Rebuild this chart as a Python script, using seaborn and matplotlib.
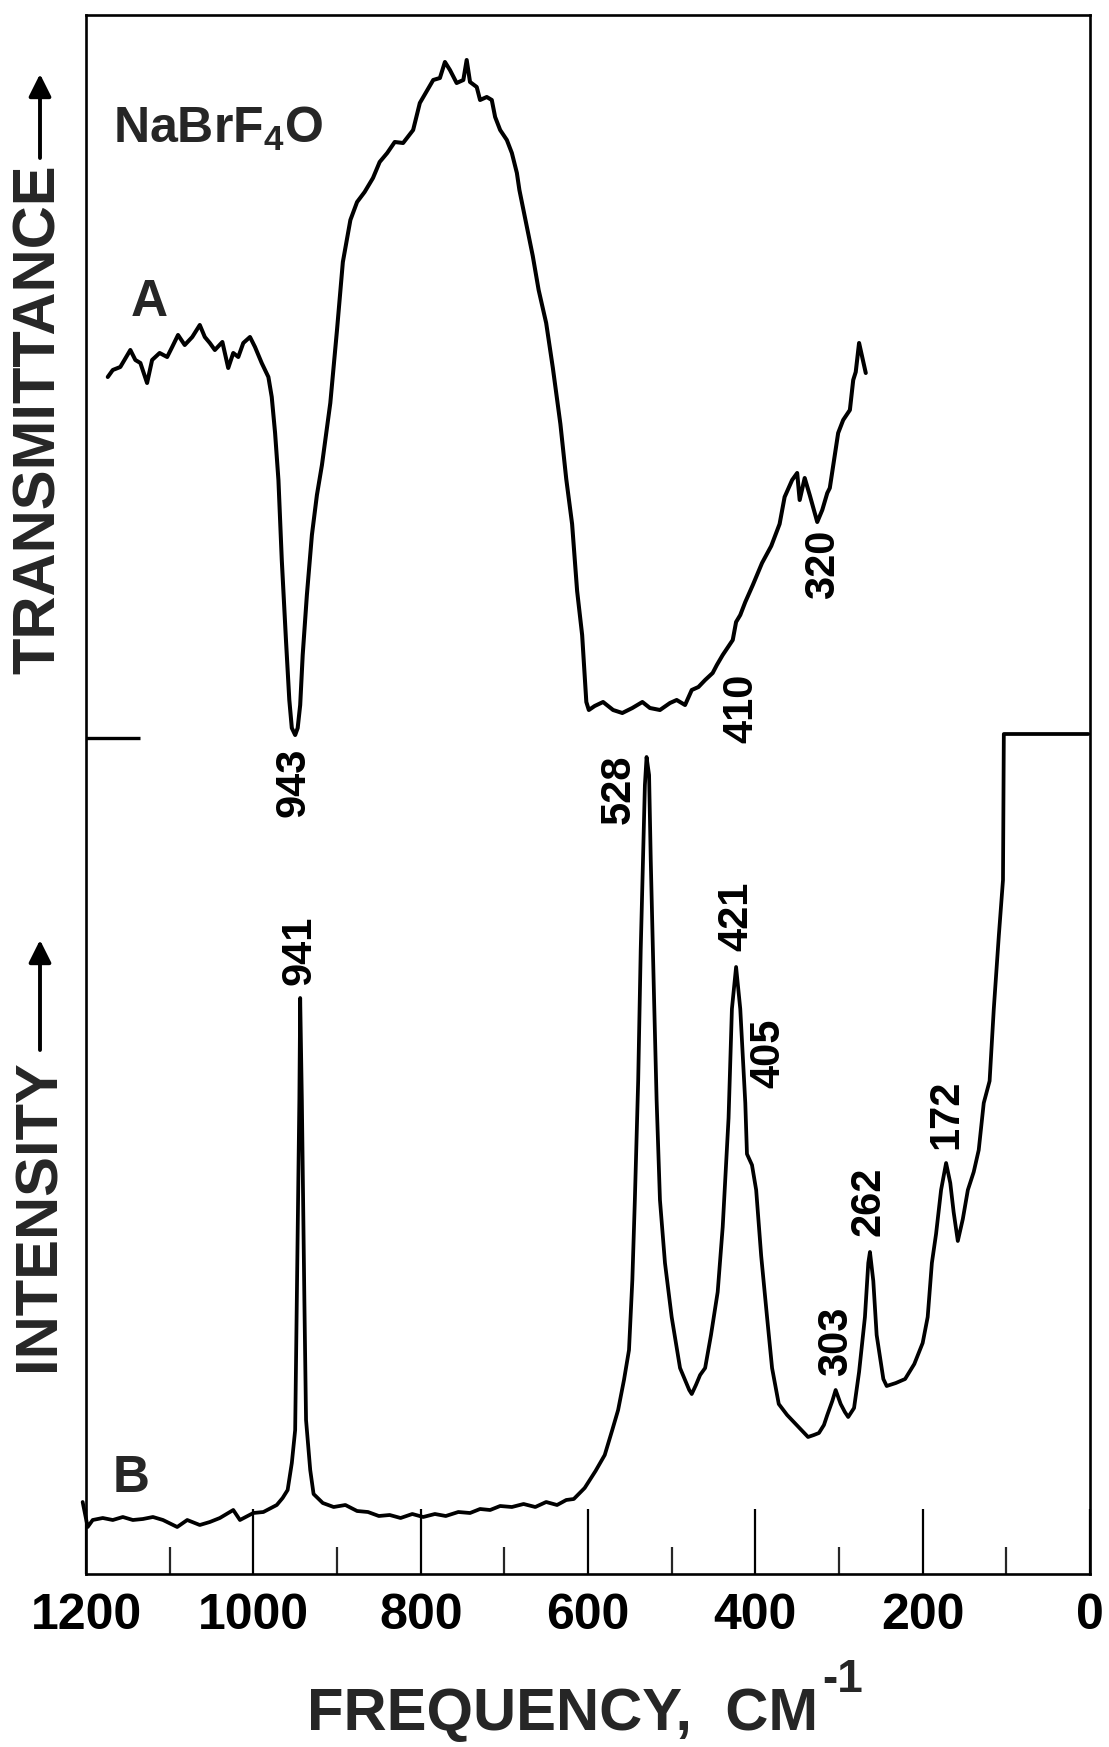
import numpy as np
import pandas as pd
import matplotlib
matplotlib.use("Agg")
import matplotlib.pyplot as plt
import seaborn as sns
from matplotlib.ticker import MultipleLocator

# ---------------- data ----------------
# Spectrum A: IR transmittance (arbitrary units), frequency in cm^-1
freq_A = [1174, 1168, 1159, 1147, 1141, 1135, 1127, 1121, 1112, 1103, 1097, 1090,
          1082, 1073, 1064, 1058, 1052, 1046, 1037, 1030, 1024, 1018, 1012, 1004,
          998, 990, 982, 978, 974, 970, 966, 961, 957, 954, 950, 947, 944, 941,
          936, 930, 924, 918, 908, 900, 893, 884, 876, 867, 857, 849, 840, 831,
          821, 809, 801, 792, 785, 777, 771, 765, 757, 749, 745, 741, 733, 729,
          721, 715, 711, 705, 697, 691, 685, 682, 674, 666, 659, 650, 642, 633,
          626, 619, 613, 607, 602, 599, 592, 582, 570, 559, 547, 535, 526, 514,
          502, 494, 484, 476, 468, 460, 451, 446, 439, 427, 423, 418, 412, 403,
          392, 381, 371, 365, 356, 350, 347, 341, 335, 326, 320, 314, 311, 301,
          295, 287, 283, 280, 276, 272, 268]
trans_A = [1197, 1204, 1207, 1224, 1214, 1211, 1191, 1214, 1221, 1217, 1227, 1239,
           1229, 1237, 1249, 1237, 1231, 1224, 1232, 1206, 1221, 1217, 1231, 1237,
           1227, 1211, 1197, 1177, 1141, 1094, 1014, 934, 874, 846, 839, 846, 869, 919,
           979, 1039, 1079, 1109, 1171, 1244, 1312, 1354, 1372, 1382, 1396, 1412, 1421, 1432,
           1431, 1444, 1471, 1484, 1494, 1496, 1512, 1504, 1491, 1494, 1514, 1492, 1487, 1474,
           1477, 1474, 1457, 1444, 1434, 1421, 1401, 1384, 1351, 1318, 1284, 1251, 1206, 1150,
           1095, 1050, 983, 939, 872, 864, 868, 872, 864, 861, 866, 872, 866, 864,
           871, 874, 869, 884, 887, 894, 901, 909, 919, 934, 952, 959, 972, 989,
           1011, 1028, 1050, 1077, 1094, 1101, 1074, 1096, 1079, 1052, 1064, 1081, 1086, 1141,
           1154, 1164, 1194, 1202, 1231, 1216, 1201]

# Spectrum B: Raman intensity (arbitrary units)
freq_B = [1204, 1198, 1192, 1180, 1168, 1156, 1144, 1132, 1120, 1108, 1091, 1079,
          1064, 1052, 1040, 1024, 1016, 1000, 988, 972, 965, 959, 954, 950, 948,
          945, 944, 942, 939, 937, 932, 928, 917, 904, 890, 876, 863, 850, 837,
          824, 810, 797, 783, 770, 755, 741, 729, 717, 705, 691, 677, 663, 650,
          637, 626, 617, 604, 591, 580, 571, 564, 557, 551, 547, 544, 540, 537,
          534, 532, 530, 527, 525, 521, 518, 514, 508, 500, 490, 484, 479, 476,
          471, 466, 460, 453, 445, 439, 432, 428, 423, 418, 412, 410, 404, 399,
          393, 386, 380, 372, 362, 354, 345, 337, 330, 324, 318, 314, 308, 304,
          298, 293, 289, 282, 276, 269, 265, 263, 259, 255, 247, 243, 232, 221,
          210, 200, 194, 189, 184, 178, 172, 167, 163, 158, 152, 146, 139, 133,
          127, 120, 115, 109, 104, 103, 2]
int_B = [72, 47, 54, 56, 54, 57, 54, 55, 57, 54, 47, 54,
         49, 52, 56, 64, 54, 61, 62, 69, 76, 84, 111, 144, 274,
         474, 576, 474, 274, 154, 104, 80, 71, 67, 69, 63, 62, 58, 59,
         56, 60, 57, 60, 58, 62, 61, 65, 64, 68, 67, 70, 67, 72,
         69, 74, 75, 86, 103, 119, 144, 164, 194, 224, 294, 374, 494, 624,
         724, 789, 817, 799, 714, 574, 474, 374, 311, 257, 206, 194, 184, 180,
         189, 199, 206, 239, 282, 347, 456, 565, 607, 565, 471, 420, 409, 384,
         318, 257, 206, 170, 159, 152, 144, 137, 139, 141, 149, 159, 173, 184,
         170, 162, 157, 166, 202, 257, 311, 322, 293, 239, 195, 188, 191, 195,
         210, 231, 257, 311, 340, 384, 411, 391, 362, 333, 355, 384, 402, 424,
         471, 493, 565, 638, 694, 840, 840]

# Peak labels
labels_A = ["943", "410", "320"]
labels_A_pos = [(952, 792), (417, 866), (319, 1010)]
labels_B = ["528", "941", "421", "405", "303", "262", "172"]
labels_B_pos = [(563, 785), (945, 624), (423, 658), (384, 521), (304, 233), (265, 373), (172, 460)]

x_ticks = [1200, 1000, 800, 600, 400, 200, 0]

# ---------------- styling ----------------
sns.set_theme(style="white")
plt.rcParams['font.family'] = ['Liberation Sans', 'DejaVu Sans']
plt.rcParams['font.weight'] = 'bold'
plt.rcParams['mathtext.fontset'] = 'custom'
plt.rcParams['mathtext.rm'] = 'Liberation Sans:bold'
plt.rcParams['mathtext.it'] = 'Liberation Sans:bold'
plt.rcParams['mathtext.bf'] = 'Liberation Sans:bold'

W, H = 1109, 1747
fig = plt.figure(figsize=(W / 100, H / 100), dpi=100)
L, R, T, B = 86, 1090, 15, 1574
ax = fig.add_axes([L / W, (H - B) / H, (R - L) / W, (B - T) / H])

dfA = pd.DataFrame({"freq": freq_A, "val": trans_A})
dfB = pd.DataFrame({"freq": freq_B, "val": int_B})
sns.lineplot(data=dfA, x="freq", y="val", sort=False, estimator=None,
             color="black", linewidth=2.9, ax=ax)
sns.lineplot(data=dfB, x="freq", y="val", sort=False, estimator=None,
             color="black", linewidth=2.7, ax=ax)
for ln in ax.lines:
    ln.set_clip_on(False)
    ln.set_solid_joinstyle('round')

# short panel divider on the left
ax.plot([1200, 1135], [836, 836], color="black", linewidth=2.4, solid_capstyle='butt')

ax.set_xlim(1200, 0)
ax.set_ylim(0, B - T)
ax.set_xticks(x_ticks)
ax.xaxis.set_minor_locator(MultipleLocator(100))
ax.set_yticks([])
ax.set_xlabel("")
ax.set_ylabel("")
ax.tick_params(axis='x', which='major', direction='in', length=47, width=1.6,
               pad=14, labelsize=36, colors='black', bottom=True, top=False)
ax.tick_params(axis='x', which='minor', direction='in', length=19.5, width=1.6,
               bottom=True, top=False)
for lab in ax.get_xticklabels():
    lab.set_fontweight('bold')
for sp in ax.spines.values():
    sp.set_visible(True)
    sp.set_color('black')
    sp.set_linewidth(1.9)

# peak labels
for txt, (fx_, fy_) in zip(labels_A + labels_B, labels_A_pos + labels_B_pos):
    ax.text(fx_, fy_, txt, rotation=90, ha='center', va='center',
            fontsize=30, fontweight='bold', color='black')

# panel letters & compound
ax.text(1124, 1272, "A", ha='center', va='center', fontsize=37, fontweight='bold')
ax.text(1146, 96, "B", ha='center', va='center', fontsize=37, fontweight='bold')
ax.text(1168, 1431, r"NaBrF$_{4}$O", ha='left', va='baseline', fontsize=36, fontweight='bold')

# axis titles (figure pixels)
def fx(px):
    return px / W

def fy(py):
    return (H - py) / H

fig.text(fx(39), fy(674), "TRANSMITTANCE", rotation=90, ha='center', va='bottom',
         fontsize=43, fontweight='bold')
fig.text(fx(39), fy(1371), "INTENSITY", rotation=90, ha='center', va='bottom',
         fontsize=43, fontweight='bold')
xl = fig.text(fx(307), fy(1730), "FREQUENCY,  CM", ha='left', va='baseline',
              fontsize=43, fontweight='bold')
fig.canvas.draw()
bb = xl.get_window_extent(renderer=fig.canvas.get_renderer())
# superscript: its baseline sits near the cap height of the main label
fig.text((bb.x1 + 4) / W, fy(1730 - 38), "-1", ha='left', va='baseline',
         fontsize=33, fontweight='bold')

for y0, y1 in [(158, 74), (1050, 940)]:
    ax.annotate("", xy=(fx(40), fy(y1)), xytext=(fx(40), fy(y0)),
                xycoords='figure fraction', textcoords='figure fraction',
                arrowprops=dict(arrowstyle='-|>', color='black', lw=2.8,
                                mutation_scale=34, shrinkA=0, shrinkB=0),
                annotation_clip=False)

fig.savefig("out.png", dpi=100, facecolor='white')
